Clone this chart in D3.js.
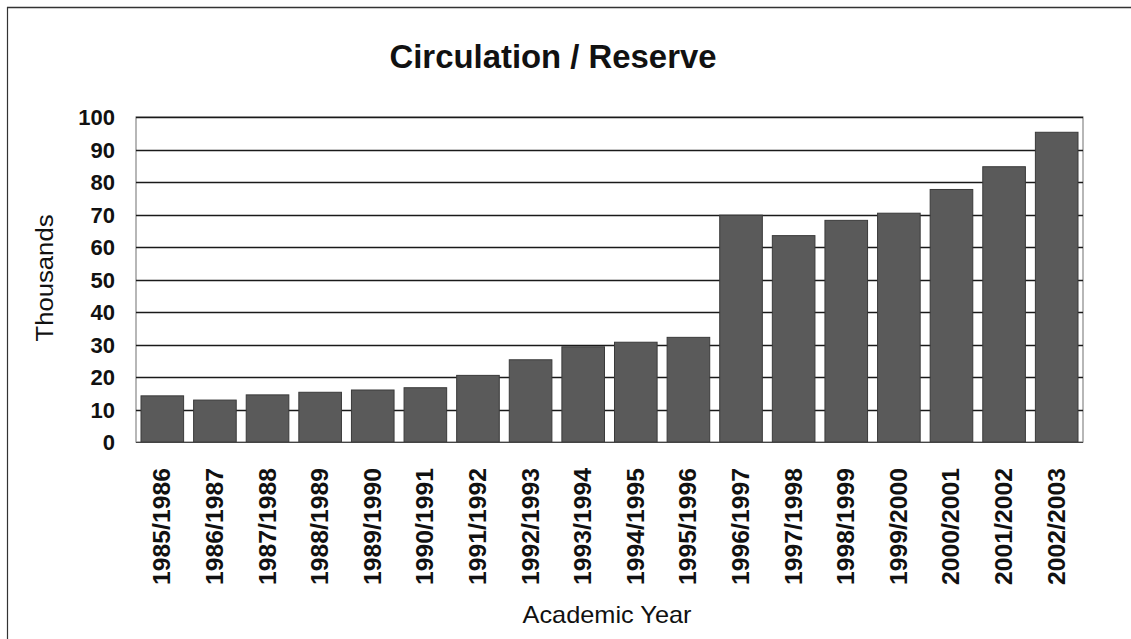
<!DOCTYPE html>
<html><head><meta charset="utf-8">
<script src="https://cdn.jsdelivr.net/npm/d3@7"></script>
<style>html,body{margin:0;padding:0;background:#fff;}</style>
</head><body>
<svg id="c" width="1131" height="639"></svg>
<script>
const categories = ["1985/1986","1986/1987","1987/1988","1988/1989","1989/1990","1990/1991","1991/1992","1992/1993","1993/1994","1994/1995","1995/1996","1996/1997","1997/1998","1998/1999","1999/2000","2000/2001","2001/2002","2002/2003"];
const values = [14.2, 12.9, 14.5, 15.3, 16.0, 16.7, 20.5, 25.3, 29.3, 30.7, 32.2, 69.8, 63.5, 68.2, 70.4, 77.7, 84.7, 95.3];
const yTicks = [0,10,20,30,40,50,60,70,80,90,100];
const title = "Circulation / Reserve";
const yTitle = "Thousands";
const xTitle = "Academic Year";

const svg = d3.select("#c");
const font = "'Liberation Sans', Arial, sans-serif";
const L = 136, R = 1083, T = 117, B = 442;

// outer frame
svg.append("line").attr("x1",7).attr("y1",7.5).attr("x2",1131).attr("y2",7.5).attr("stroke","#333").attr("stroke-width",1.5);
svg.append("line").attr("x1",7.5).attr("y1",7).attr("x2",7.5).attr("y2",639).attr("stroke","#333").attr("stroke-width",1.2);

const x = d3.scaleBand().domain(categories).range([L, R]).paddingInner(0.19).paddingOuter(0.095);
const y = d3.scaleLinear().domain([0, 100]).range([B, T]);

// plot border
svg.append("rect").attr("x",L).attr("y",T).attr("width",R-L).attr("height",B-T)
  .attr("fill","none").attr("stroke","#888").attr("stroke-width",1.2);

// gridlines
svg.append("g").selectAll("line").data(yTicks.filter(d=>d>0)).join("line")
  .attr("x1",L).attr("x2",R).attr("y1",d=>Math.round(y(d))+0.5).attr("y2",d=>Math.round(y(d))+0.5)
  .attr("stroke","#1a1a1a").attr("stroke-width",1.3);

// bars
svg.append("g").selectAll("rect").data(values).join("rect")
  .attr("x",(d,i)=>x(categories[i]))
  .attr("width",x.bandwidth())
  .attr("y",d=>y(d))
  .attr("height",d=>y(0)-y(d))
  .attr("fill","#5a5a5a").attr("stroke","#3a3a3a").attr("stroke-width",1);

// baseline
svg.append("line").attr("x1",L).attr("x2",R).attr("y1",B+0.5).attr("y2",B+0.5).attr("stroke","#444").attr("stroke-width",1.2);

// y axis
const yAxis = d3.axisLeft(y).tickValues(yTicks).tickSize(0).tickPadding(21);
const gy = svg.append("g").attr("transform",`translate(${L},0)`).call(yAxis);
gy.select(".domain").remove();
gy.selectAll("text").attr("font-family",font).attr("font-weight","bold").attr("font-size","22px")
  .attr("fill","#111").attr("dy","0.36em");

// x axis
const xAxis = d3.axisBottom(x).tickSize(0).tickPadding(0);
const gx = svg.append("g").attr("transform",`translate(0,${B})`).call(xAxis);
gx.select(".domain").remove();
gx.selectAll("text")
  .attr("font-family",font).attr("font-weight","bold").attr("font-size","23px").attr("fill","#111")
  .attr("text-anchor","end").attr("dy",null).attr("y",0)
  .attr("transform","translate(8,26) rotate(-90)")
  .attr("textLength",117).attr("lengthAdjust","spacingAndGlyphs");

// title
svg.append("text").attr("x",553).attr("y",68).attr("text-anchor","middle")
  .attr("font-family",font).attr("font-weight","bold").attr("font-size","34px").attr("fill","#111")
  .attr("textLength",327).attr("lengthAdjust","spacingAndGlyphs").text(title);

// y title
svg.append("text").attr("transform","translate(53,278) rotate(-90)").attr("text-anchor","middle")
  .attr("font-family",font).attr("font-size","23px").attr("fill","#111")
  .attr("textLength",127).attr("lengthAdjust","spacingAndGlyphs").text(yTitle);

// x title
svg.append("text").attr("x",607).attr("y",623).attr("text-anchor","middle")
  .attr("font-family",font).attr("font-size","24px").attr("fill","#111")
  .attr("textLength",169).attr("lengthAdjust","spacingAndGlyphs").text(xTitle);
</script>
</body></html>
